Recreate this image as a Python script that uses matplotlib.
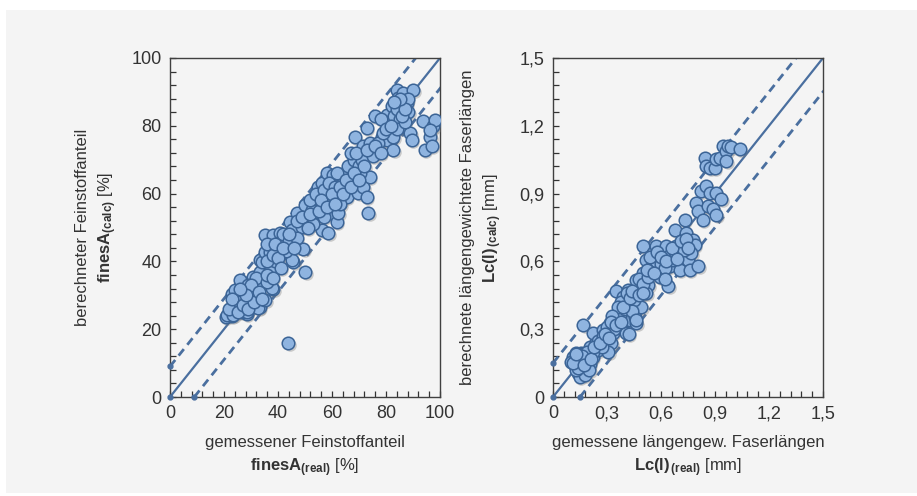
import numpy as np
import matplotlib
matplotlib.use('Agg')
import matplotlib.pyplot as plt
from matplotlib.patches import Rectangle
from matplotlib.ticker import MultipleLocator, FuncFormatter
from matplotlib.transforms import offset_copy

plt.rcParams['font.family'] = ['Liberation Sans', 'DejaVu Sans']
plt.rcParams['mathtext.fontset'] = 'custom'
plt.rcParams['mathtext.rm'] = 'Liberation Sans'
plt.rcParams['mathtext.bf'] = 'Liberation Sans:bold'
plt.rcParams['mathtext.it'] = 'Liberation Sans:italic'

# fines content, measured vs. calculated [%]
fines_real = [20.7, 22.8, 24.0, 22.8, 24.7, 26.5, 28.4, 28.4, 26.5, 26.0, 29.6, 31.5, 33.3, 32.0, 30.2,
              33.3, 30.9, 34.6, 34.6, 33.3, 35.8, 35.2, 38.3, 40.7, 37.0, 39.5, 41.4, 41.4, 38.3, 38.3,
              37.0, 44.4, 45.0, 45.7, 43.2, 43.8, 50.0, 49.4, 48.1, 46.9, 50.0, 50.6, 53.0, 54.3, 55.6,
              54.9, 56.2, 58.0, 60.5, 56.2, 58.6, 56.8, 59.3, 60.5, 61.7, 62.3, 63.0, 64.2, 64.8, 66.0,
              65.4, 66.7, 67.9, 69.1, 69.8, 71.6, 72.8, 73.5, 74.0, 70.4, 68.5, 72.8, 71.6, 74.0, 72.8,
              76.5, 78.4, 75.9, 80.2, 80.2, 81.5, 82.7, 82.7, 82.1, 84.0, 84.6, 85.2, 85.8, 86.4, 87.7,
              88.3, 90.1, 88.9, 89.5, 93.8, 94.4, 96.3, 96.9, 97.5, 98.1, 96.3,
              21.0, 23.5, 28.4, 32.7, 24.1, 27.8, 25.9, 31.5, 34.0, 37.7, 35.2, 33.3, 37.0, 34.0, 35.2,
              45.0, 45.0, 48.8, 52.5, 41.4, 37.0,
              52.0, 54.0, 57.0, 59.0, 61.0, 62.0, 57.0, 53.0, 63.0, 66.0, 68.0, 70.0, 67.0, 71.0, 75.0,
              77.0, 79.0, 81.0, 83.0, 85.0, 86.0, 88.0, 84.0, 78.0, 87.0,
              42.0, 44.0, 40.0, 39.0, 36.0, 43.0, 47.0, 30.0, 29.0, 27.0, 25.0, 32.0, 36.0,
              22.0, 23.0, 25.0, 27.0, 29.0, 31.0, 30.0, 28.0, 26.0, 33.0, 34.0, 36.0, 38.0, 36.0, 38.0,
              40.0, 41.0, 39.0, 42.0, 44.0, 46.0, 47.0, 49.0, 51.0, 52.0, 55.0, 56.0, 58.0, 60.0, 61.0,
              63.0, 64.0, 65.0, 67.0, 68.0, 70.0, 69.0, 72.0, 73.0, 76.0, 78.0, 80.0, 82.0, 84.0, 86.0,
              87.0, 85.0, 83.0]
fines_calc = [23.6, 23.8, 27.6, 30.5, 31.5, 32.5, 33.5, 24.6, 25.0, 28.6, 27.6, 29.6, 26.6, 32.5, 31.0,
              34.5, 35.5, 36.5, 39.4, 40.4, 42.4, 47.8, 47.8, 48.3, 44.3, 42.4, 46.3, 42.4, 38.4, 32.0,
              36.5, 51.7, 47.3, 39.9, 44.3, 15.8, 36.9, 43.8, 50.2, 54.2, 56.7, 53.2, 54.2, 57.1, 59.1,
              62.0, 63.0, 66.0, 65.5, 49.3, 48.3, 55.2, 54.2, 58.1, 51.7, 54.2, 60.1, 63.0, 66.0, 68.0,
              59.1, 62.0, 65.0, 62.0, 60.1, 62.0, 59.1, 54.2, 65.0, 66.0, 76.8, 71.9, 73.9, 74.9, 79.3,
              72.9, 76.8, 82.8, 75.9, 83.3, 79.8, 72.9, 76.8, 85.7, 90.6, 88.2, 84.7, 79.8, 89.7, 86.7,
              84.2, 90.6, 77.8, 75.9, 81.3, 72.9, 76.8, 73.9, 79.8, 81.8, 78.8,
              24.2, 24.2, 25.2, 26.2, 31.6, 32.5, 34.5, 32.5, 34.0, 32.1, 28.6, 37.0, 37.5, 39.9, 42.9,
              40.4, 49.3, 50.2, 55.2, 45.8, 42.9,
              58.0, 60.0, 61.0, 63.0, 62.0, 66.0, 53.0, 51.0, 57.0, 64.0, 70.0, 68.0, 72.0, 70.0, 71.0,
              75.0, 78.0, 81.0, 83.0, 82.0, 86.0, 88.0, 79.0, 82.0, 81.0,
              48.0, 46.0, 44.0, 40.0, 45.0, 43.0, 47.0, 30.0, 33.0, 30.0, 28.0, 35.0, 34.0,
              26.0, 29.0, 25.0, 27.0, 26.0, 28.0, 33.0, 30.0, 32.0, 31.0, 29.0, 36.0, 35.0, 40.0, 42.0,
              41.0, 38.0, 45.0, 44.0, 48.0, 44.0, 52.0, 53.0, 50.0, 54.0, 55.0, 58.0, 56.0, 60.0, 57.0,
              62.0, 60.0, 64.0, 62.0, 66.0, 64.0, 72.0, 68.0, 73.0, 74.0, 72.0, 79.0, 80.0, 85.0, 83.0,
              85.0, 88.0, 87.0]

# length weighted fibre length, measured vs. calculated [mm]
lc_real = [0.111, 0.120, 0.139, 0.148, 0.102, 0.167, 0.130, 0.157, 0.185, 0.204, 0.176, 0.167, 0.222,
           0.204, 0.241, 0.250, 0.269, 0.222, 0.278, 0.315, 0.296, 0.324, 0.306, 0.333, 0.352, 0.361,
           0.380, 0.389, 0.407, 0.426, 0.435, 0.389, 0.417, 0.444, 0.463, 0.472, 0.454, 0.463, 0.420,
           0.491, 0.500, 0.500, 0.519, 0.528, 0.537, 0.519, 0.556, 0.574, 0.583, 0.565, 0.593, 0.611,
           0.630, 0.639, 0.648, 0.667, 0.676, 0.685, 0.704, 0.722, 0.731, 0.741, 0.750, 0.759, 0.778,
           0.787, 0.806, 0.769, 0.796, 0.806, 0.833, 0.824, 0.852, 0.870, 0.861, 0.889, 0.907, 0.907,
           0.935, 0.843, 0.852, 0.870, 0.898, 0.907, 0.926, 0.944, 0.963, 0.972, 0.963, 0.991, 1.037,
           0.14, 0.16, 0.13, 0.18, 0.15, 0.22, 0.25, 0.28, 0.30, 0.34, 0.37, 0.40, 0.42, 0.45, 0.47,
           0.38, 0.41, 0.48, 0.50, 0.53, 0.55, 0.57, 0.60, 0.62, 0.65, 0.68, 0.70, 0.73, 0.62, 0.44,
           0.46, 0.36, 0.33, 0.27, 0.19, 0.20,
           0.12, 0.14, 0.16, 0.11, 0.13, 0.17, 0.21, 0.23, 0.26, 0.29, 0.31, 0.32, 0.35, 0.38, 0.39,
           0.43, 0.44, 0.48, 0.50, 0.52, 0.54, 0.56, 0.58, 0.60, 0.63, 0.66, 0.69, 0.71, 0.74, 0.75]
lc_calc = [0.178, 0.141, 0.104, 0.089, 0.156, 0.163, 0.193, 0.193, 0.126, 0.148, 0.096, 0.319, 0.178,
           0.222, 0.244, 0.207, 0.230, 0.281, 0.296, 0.326, 0.259, 0.237, 0.200, 0.281, 0.467, 0.348,
           0.311, 0.370, 0.281, 0.341, 0.415, 0.444, 0.474, 0.459, 0.519, 0.400, 0.356, 0.326, 0.280,
           0.400, 0.548, 0.667, 0.607, 0.496, 0.563, 0.459, 0.637, 0.667, 0.578, 0.548, 0.533, 0.622,
           0.667, 0.489, 0.578, 0.607, 0.741, 0.667, 0.563, 0.696, 0.785, 0.726, 0.607, 0.563, 0.696,
           0.674, 0.578, 0.637, 0.859, 0.822, 0.785, 0.911, 0.933, 0.904, 0.844, 0.830, 0.807, 0.904,
           0.874, 1.059, 1.022, 1.015, 1.015, 1.052, 1.059, 1.111, 1.089, 1.111, 1.044, 1.104, 1.096,
           0.17, 0.15, 0.12, 0.17, 0.19, 0.20, 0.25, 0.27, 0.31, 0.30, 0.36, 0.39, 0.40, 0.43, 0.46,
           0.42, 0.46, 0.52, 0.50, 0.53, 0.58, 0.60, 0.59, 0.57, 0.63, 0.64, 0.66, 0.65, 0.52, 0.38,
           0.34, 0.40, 0.36, 0.22, 0.20, 0.12,
           0.16, 0.13, 0.18, 0.15, 0.19, 0.14, 0.17, 0.22, 0.24, 0.28, 0.26, 0.33, 0.32, 0.33, 0.40,
           0.44, 0.47, 0.45, 0.46, 0.56, 0.62, 0.55, 0.64, 0.62, 0.60, 0.66, 0.61, 0.69, 0.70, 0.66]

fines_band = 9.0
lc_band = 0.15

face = '#8fb4e0'
edge = '#3b6496'
line_col = '#4a6f9f'
bg = '#f4f4f4'


def comma(v, pos):
    if v == 0:
        return '0'
    return f'{v:.1f}'.replace('.', ',')


def draw_panel(ax, xs, ys, lim, band, major, minor):
    ax.set_facecolor('none')
    ref = np.array([0, lim * 1.2])
    ax.plot(ref, ref, color=line_col, lw=1.6, zorder=2)
    ax.plot(ref, ref + band, color=line_col, lw=2.0, dashes=(3, 2), zorder=2)
    ax.plot(ref + band, ref, color=line_col, lw=2.0, dashes=(3, 2), zorder=2)
    ax.plot([0, 0, band], [0, band, 0], ls='none', marker='o', ms=3.5,
            color=line_col, zorder=3, clip_on=False)

    shadow = offset_copy(ax.transData, fig=ax.figure, x=1.5, y=-2, units='dots')
    ax.scatter(xs, ys, s=82, color='#7a7a7a', alpha=0.35, lw=0, transform=shadow, zorder=3)
    ax.scatter(xs, ys, s=82, facecolor=face, edgecolor=edge, lw=1.1, zorder=4)

    ax.set_xlim(0, lim)
    ax.set_ylim(0, lim)
    for a in (ax.xaxis, ax.yaxis):
        a.set_major_locator(MultipleLocator(major))
        a.set_minor_locator(MultipleLocator(minor))
    ax.tick_params(which='both', direction='in', length=4, width=0.9, color='#333333',
                   labelsize=13, labelcolor='#333333', pad=6)
    for s in ax.spines.values():
        s.set_color('#404040')
        s.set_linewidth(1.0)


fig = plt.figure(figsize=(9.17, 4.96), dpi=100)
fig.patch.set_facecolor('white')
fig.patches.append(Rectangle((6 / 917, 3 / 496), 911 / 917, 483 / 496,
                             transform=fig.transFigure, facecolor=bg, edgecolor='none', zorder=-10))

ax1 = fig.add_axes([170 / 917, 99 / 496, 270 / 917, 339 / 496])
ax2 = fig.add_axes([553 / 917, 99 / 496, 270 / 917, 339 / 496])

draw_panel(ax1, fines_real, fines_calc, 100, fines_band, 20, 4)
draw_panel(ax2, lc_real, lc_calc, 1.5, lc_band, 0.3, 0.06)
ax2.xaxis.set_major_formatter(FuncFormatter(comma))
ax2.yaxis.set_major_formatter(FuncFormatter(comma))

lab = dict(fontsize=12, color='#333333', linespacing=1.45)
ax1.set_xlabel('gemessener Feinstoffanteil\n$\\mathbf{finesA}_{\\mathbf{(real)}}$ [%]', labelpad=9, **lab)
ax1.set_ylabel('berechneter Feinstoffanteil\n$\\mathbf{finesA}_{\\mathbf{(calc)}}$ [%]', labelpad=9, **lab)
ax2.set_xlabel('gemessene längengew. Faserlängen\n$\\mathbf{Lc(l)}_{\\mathbf{\\,(real)}}$ [mm]', labelpad=9, **lab)
ax2.set_ylabel('berechnete längengewichtete Faserlängen\n$\\mathbf{Lc(l)}_{\\mathbf{\\,(calc)}}$ [mm]', labelpad=11, **lab)

fig.savefig('out.png', dpi=100, facecolor=fig.get_facecolor())
